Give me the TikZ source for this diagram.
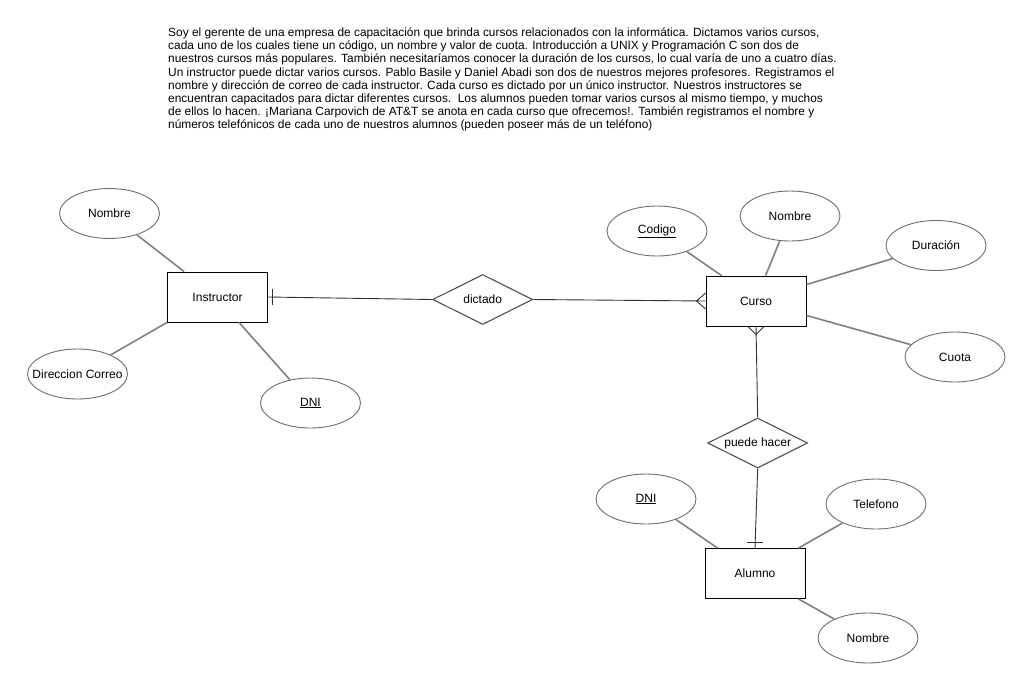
\documentclass[tikz,border=0pt]{standalone}
\usepackage{fontspec}
\setmainfont{Liberation Sans}
\usetikzlibrary{shapes.geometric}
\definecolor{attrgray}{HTML}{808080}
\definecolor{ovalgray}{HTML}{6E6E6E}
\definecolor{relgray}{HTML}{505050}
\begin{document}
\begin{tikzpicture}[x=1pt, y=-1pt,
  entity/.style={draw=black, line width=0.9pt, minimum width=100pt, minimum height=50pt, inner sep=0pt, font=\fontsize{12}{14}\selectfont},
  attr/.style={draw=ovalgray, line width=0.9pt, ellipse, minimum width=100pt, minimum height=50pt, inner sep=0pt, font=\fontsize{12}{14}\selectfont},
  rel/.style={draw=relgray, line width=1.1pt, diamond, aspect=2, minimum width=100pt, minimum height=50pt, inner sep=0pt, font=\fontsize{12}{14}\selectfont},
  attrline/.style={draw=attrgray, line width=1.6pt},
  relline/.style={draw=black!80, line width=0.9pt}]
   \useasboundingbox (0,0) rectangle (1031,689);
   \node[anchor=north west, inner sep=0pt, align=left, font=\fontsize{11.9}{13.2}\selectfont] (enunciado) at (168,27.5)
     {Soy el gerente de una empresa de capacitación que brinda cursos relacionados con la informática. Dictamos varios cursos,\\
      cada uno de los cuales tiene un código, un nombre y valor de cuota. Introducción a UNIX y Programación C son dos de\\
      nuestros cursos más populares. También necesitaríamos conocer la duración de los cursos, lo cual varía de uno a cuatro días.\\
      Un instructor puede dictar varios cursos. Pablo Basile y Daniel Abadi son dos de nuestros mejores profesores. Registramos el\\
      nombre y dirección de correo de cada instructor. Cada curso es dictado por un único instructor. Nuestros instructores se\\
      encuentran capacitados para dictar diferentes cursos.\ \ Los alumnos pueden tomar varios cursos al mismo tiempo, y muchos\\
      de ellos lo hacen. ¡Mariana Carpovich de AT\&T se anota en cada curso que ofrecemos!. También registramos el nombre y\\
      números telefónicos de cada uno de nuestros alumnos (pueden poseer más de un teléfono)};
   \node[entity] (instr) at (217.5,297) {Instructor};
   \node[entity] (curso) at (756,301) {Curso};
   \node[entity] (alumno) at (755,573.5) {Alumno};
   \node[rel] (dictado) at (482.7,299.5) {dictado};
   \node[rel] (puede) at (757.7,443) {puede hacer};
   \node[attr] (nomI) at (109.5,213.5) {Nombre};
   \node[attr] (dirI) at (77.5,374) {\makebox[0pt]{Direccion Correo}};
   \node[attr] (dniI) at (310.5,403) {\underline{DNI}};
   \node[attr] (cod) at (657,231) {\underline{Codigo}};
   \node[attr] (nomC) at (790,216) {Nombre};
   \node[attr] (dur) at (936,245.5) {Duración};
   \node[attr] (cuota) at (955,357) {Cuota};
   \node[attr] (dniA) at (646,499) {\underline{DNI}};
   \node[attr] (tel) at (876,504) {Telefono};
   \node[attr] (nomA) at (868,638) {Nombre};
   \draw[attrline] ([xshift=17pt]instr.north west) -- (nomI);
   \draw[attrline] (instr.south west) -- (dirI);
   \draw[attrline] ([xshift=72pt]instr.south west) -- (dniI);
   \draw[relline] (instr.east) -- (dictado.west);
   \draw[relline] (dictado.east) -- (curso.west);
   \draw[attrline] ([xshift=16pt]curso.north west) -- (cod);
   \draw[attrline] ([xshift=60pt]curso.north west) -- (nomC);
   \draw[attrline] ([yshift=-9pt]curso.north east) -- (dur);
   \draw[attrline] ([yshift=11pt]curso.south east) -- (cuota);
   \draw[relline] (curso.south) -- (puede.north);
   \draw[relline] (puede.south) -- (alumno.north);
   \draw[attrline] ([xshift=13pt]alumno.north west) -- (dniA);
   \draw[attrline] ([xshift=-7pt]alumno.north east) -- (tel);
   \draw[attrline] ([xshift=-7pt]alumno.south east) -- (nomA);
   \draw[relline] ([xshift=4pt]instr.east) +(0,-8) -- +(0,8);
   \draw[relline] ([yshift=8pt]curso.west) -- ([xshift=-9pt]curso.west) -- ([yshift=-8pt]curso.west);
   \draw[relline] ([xshift=-8pt]curso.south) -- ([yshift=-8pt]curso.south) -- ([xshift=8pt]curso.south);
   \draw[relline] ([yshift=6pt]alumno.north) +(-8,0) -- +(8,0);
\end{tikzpicture}
\end{document}
